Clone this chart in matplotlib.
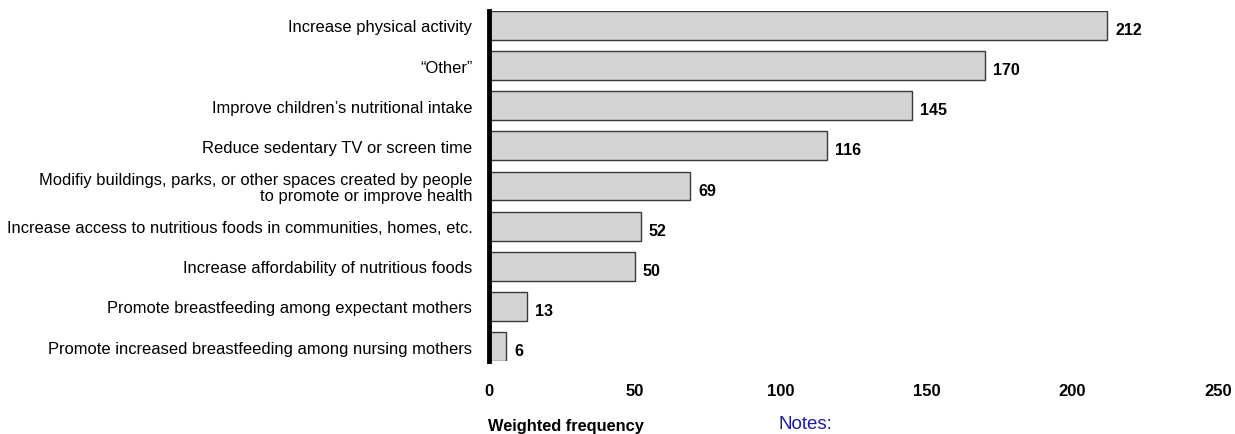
import matplotlib.pyplot as plt
import numpy as np

plt.rcParams['font.family'] = ['Liberation Sans', 'DejaVu Sans']

categories = [
    "Increase physical activity",
    "\u201cOther\u201d",
    "Improve children\u2019s nutritional intake",
    "Reduce sedentary TV or screen time",
    "Modifiy buildings, parks, or other spaces created by people\nto promote or improve health",
    "Increase access to nutritious foods in communities, homes, etc.",
    "Increase affordability of nutritious foods",
    "Promote breastfeeding among expectant mothers",
    "Promote increased breastfeeding among nursing mothers",
]
values = [212, 170, 145, 116, 69, 52, 50, 13, 6]
xticks = [0, 50, 100, 150, 200, 250]

fig = plt.figure(figsize=(12.35, 4.35), dpi=100)
ax = fig.add_axes([489 / 1235, 73 / 435, 729 / 1235, 350 / 435])

y = np.arange(len(categories))
h = 0.72
ax.barh(y, values, height=h, color='#d3d3d3', edgecolor='#3a3a3a', linewidth=1.0)
for yi, v in zip(y, values):
    ax.text(v + 2.8, yi + 0.1, str(v), fontsize=11.5, fontweight='bold', va='center', ha='left')

ax.set_xlim(0, 250)
ax.set_ylim(len(categories) - 1 + h / 2, -h / 2)
ax.set_yticks(y)
ax.set_yticklabels(categories, fontsize=11.9, linespacing=1.02)
ax.set_xticks(xticks)
ax.set_xticklabels([str(t) for t in xticks], fontsize=12, fontweight='bold')
ax.tick_params(axis='y', length=0, pad=12)
ax.tick_params(axis='x', length=0, pad=16)

for s in ['top', 'right', 'bottom']:
    ax.spines[s].set_visible(False)
ax.spines['left'].set_linewidth(3.5)
ax.spines['left'].set_color('black')

fig.text(488 / 1235, 1 - 427 / 435, "Weighted frequency", fontsize=11.8, fontweight='bold', va='center', ha='left')
fig.text(779 / 1235, 1 - 425 / 435, "Notes:", fontsize=13.5, color='#1a1aa8', va='center', ha='left')

fig.savefig('out.png', dpi=100)
